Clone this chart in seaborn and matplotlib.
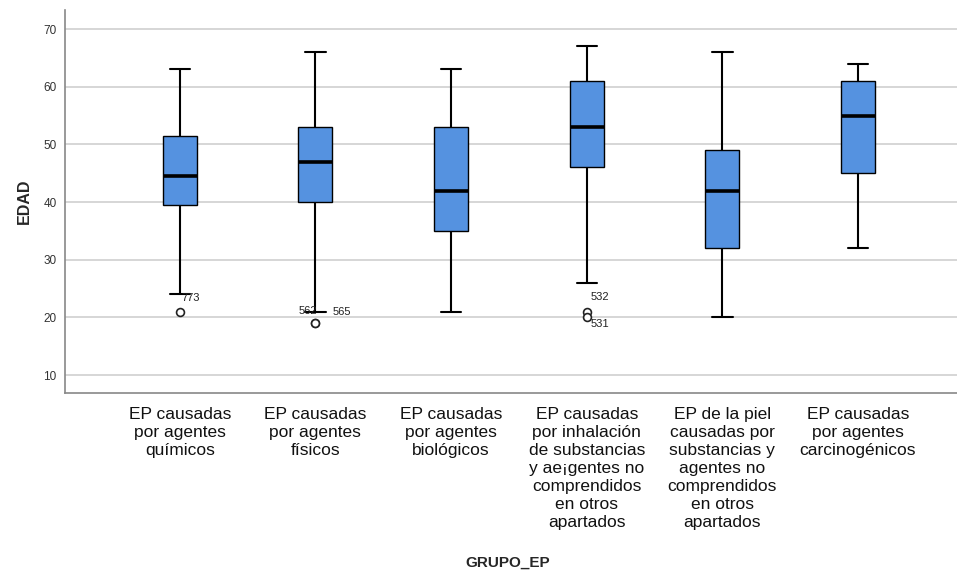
import numpy as np
import pandas as pd
import matplotlib
matplotlib.use("Agg")
import matplotlib.pyplot as plt
import seaborn as sns

# Groups of occupational disease (EP)
categories = [
    "EP causadas\npor agentes\nquímicos",
    "EP causadas\npor agentes\nfísicos",
    "EP causadas\npor agentes\nbiológicos",
    "EP causadas\npor inhalación\nde substancias\ny ae¡gentes no\ncomprendidos\nen otros\napartados",
    "EP de la piel\ncausadas por\nsubstancias y\nagentes no\ncomprendidos\nen otros\napartados",
    "EP causadas\npor agentes\ncarcinogénicos",
]

# Five-number summaries of EDAD per group: whisker low, Q1, median, Q3, whisker high
whisker_low = [24, 21, 21, 26, 20, 32]
q1          = [39.5, 40, 35, 46, 32, 45]
median      = [44.5, 47, 42, 53, 42, 55]
q3          = [51.5, 53, 53, 61, 49, 61]
whisker_high = [63, 66, 63, 67, 66, 64]

# Outlying cases (group index, age, case id)
outlier_group = [0, 1, 1, 3, 3]
outlier_age   = [21, 19, 19, 21, 20]
outlier_id    = ["773", "562", "565", "532", "531"]

rows = []
for i, cat in enumerate(categories):
    for v in (whisker_low[i], q1[i], median[i], q3[i], whisker_high[i]):
        rows.append({"GRUPO_EP": cat, "EDAD": v})
df = pd.DataFrame(rows)
out_df = pd.DataFrame({
    "GRUPO_EP": [categories[g] for g in outlier_group],
    "EDAD": outlier_age,
})

sns.set_style("white")
plt.rcParams["font.family"] = ["Liberation Sans", "DejaVu Sans"]

fig = plt.figure(figsize=(9.57, 5.71), dpi=100)
ax = fig.add_axes([65 / 957, 1 - 393 / 571, 1 - 65 / 957, 383 / 571])

box_color = "#5592E0"
sns.boxplot(
    data=df, x="GRUPO_EP", y="EDAD", order=categories, ax=ax,
    whis=np.inf, width=0.25, color=box_color, saturation=1,
    linecolor="black", linewidth=1.2,
    boxprops=dict(facecolor=box_color, edgecolor="black", linewidth=1.0),
    medianprops=dict(color="black", linewidth=2.6),
    whiskerprops=dict(color="black", linewidth=1.5),
    capprops=dict(color="black", linewidth=1.5),
    capwidths=0.15,
    zorder=3,
)

sns.scatterplot(
    data=out_df, x="GRUPO_EP", y="EDAD", ax=ax, marker="o", s=32,
    facecolor="white", edgecolor="#222222", linewidth=1.2, zorder=4,
    legend=False,
)

# Case labels next to the outliers
label_offsets = [(0.01, 2.4, "left"), (0.01, 2.1, "right"), (0.13, 2.0, "left"),
                 (0.03, 2.6, "left"), (0.03, -1.1, "left")]
for g, a, t, (dx, dy, ha) in zip(outlier_group, outlier_age, outlier_id, label_offsets):
    ax.text(g + dx, a + dy, t, ha=ha, va="center", fontsize=8, color="#222222", zorder=5)

ax.set_xlim(-0.846, 5.73)
ax.set_ylim(6.9, 73.3)
ax.set_yticks([10, 20, 30, 40, 50, 60, 70])
ax.yaxis.grid(True, color="#cfcfcf", linewidth=1.2, zorder=0)
ax.set_axisbelow(True)
ax.tick_params(axis="y", labelsize=8.5, labelcolor="#333333", length=0, pad=6)
ax.tick_params(axis="x", labelsize=12.5, labelcolor="#111111", length=0, pad=10)
for lbl in ax.get_xticklabels():
    lbl.set_linespacing(1.25)
    lbl.set_va("top")

for side in ("top", "right"):
    ax.spines[side].set_visible(False)
for side in ("left", "bottom"):
    ax.spines[side].set_color("#888888")
    ax.spines[side].set_linewidth(1.2)

ax.set_ylabel("EDAD", fontsize=11.5, fontweight="bold", labelpad=8)
ax.set_xlabel("")
fig.text(0.53, 0.003, "GRUPO_EP", ha="center", va="bottom", fontsize=11, fontweight="bold")

# Chart title, running off the top edge
fig.text(0.713, 1.012, "según género y", ha="center", va="baseline",
         fontsize=14, fontweight="bold")

fig.savefig("out.png", dpi=100)
